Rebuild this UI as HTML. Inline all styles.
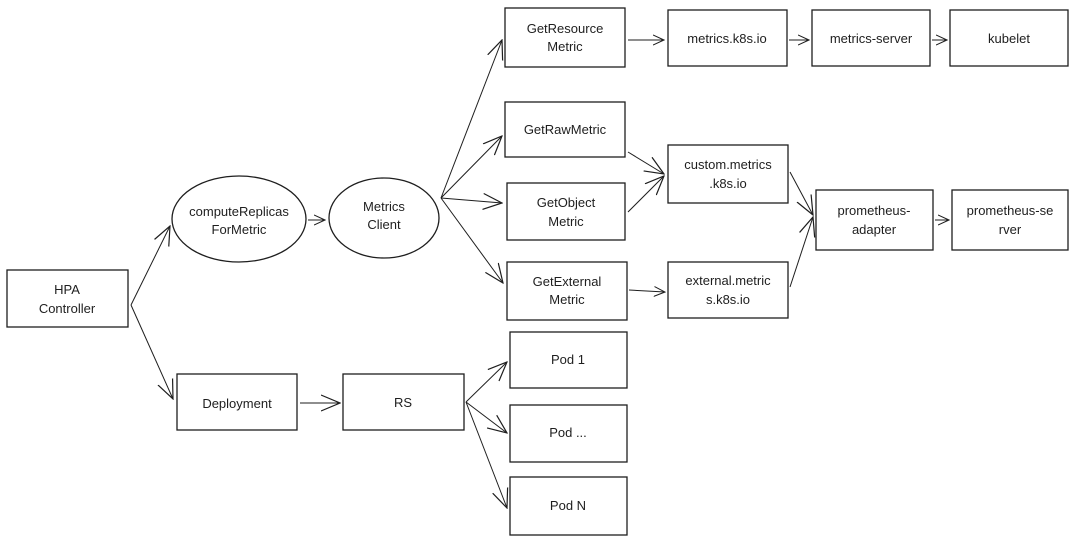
<!DOCTYPE html>
<html><head><meta charset="utf-8"><style>
html,body{margin:0;padding:0;background:#fff;}
svg{display:block}
text{font-family:"Liberation Sans",sans-serif;font-size:13px;fill:#1e1e1e;text-anchor:middle;}
.b{fill:none;stroke:#1e1e1e;stroke-width:1.3}
.a{fill:none;stroke:#1e1e1e;stroke-width:1}
</style></head><body>
<svg width="1080" height="541" viewBox="0 0 1080 541">
<defs><marker id="m" viewBox="0 0 12 12" refX="11" refY="6" markerWidth="12" markerHeight="12" markerUnits="userSpaceOnUse" orient="auto"><path d="M0,1 L11,6 L0,11" fill="none" stroke="#1e1e1e" stroke-width="1"/></marker>
<marker id="M" viewBox="0 0 20 20" refX="19" refY="10" markerWidth="20" markerHeight="20" markerUnits="userSpaceOnUse" orient="auto"><path d="M0,2 L19,10 L0,18" fill="none" stroke="#1e1e1e" stroke-width="1.2"/></marker></defs>
<!-- boxes -->
<rect class="b" x="7" y="270" width="121" height="57"/>
<ellipse class="b" cx="239" cy="219" rx="67" ry="43"/>
<ellipse class="b" cx="384" cy="218" rx="55" ry="40"/>
<rect class="b" x="505" y="8" width="120" height="59"/>
<rect class="b" x="505" y="102" width="120" height="55"/>
<rect class="b" x="507" y="183" width="118" height="57"/>
<rect class="b" x="507" y="262" width="120" height="58"/>
<rect class="b" x="668" y="10" width="119" height="56"/>
<rect class="b" x="812" y="10" width="118" height="56"/>
<rect class="b" x="950" y="10" width="118" height="56"/>
<rect class="b" x="668" y="145" width="120" height="58"/>
<rect class="b" x="668" y="262" width="120" height="56"/>
<rect class="b" x="816" y="190" width="117" height="60"/>
<rect class="b" x="952" y="190" width="116" height="60"/>
<rect class="b" x="177" y="374" width="120" height="56"/>
<rect class="b" x="343" y="374" width="121" height="56"/>
<rect class="b" x="510" y="332" width="117" height="56"/>
<rect class="b" x="510" y="405" width="117" height="57"/>
<rect class="b" x="510" y="477" width="117" height="58"/>
<!-- arrows -->
<path class="a" d="M131,305 L170,226" marker-end="url(#M)"/>
<path class="a" d="M131,305 L173,399" marker-end="url(#M)"/>
<path class="a" d="M308,220 L325,220" marker-end="url(#m)"/>
<path class="a" d="M441,198 L502,40" marker-end="url(#M)"/>
<path class="a" d="M441,198 L502,136" marker-end="url(#M)"/>
<path class="a" d="M441,198 L502,203" marker-end="url(#M)"/>
<path class="a" d="M441,198 L503,283" marker-end="url(#M)"/>
<path class="a" d="M628,40 L664,40" marker-end="url(#m)"/>
<path class="a" d="M789,40 L809,40" marker-end="url(#m)"/>
<path class="a" d="M932,40 L947,40" marker-end="url(#m)"/>
<path class="a" d="M628,152 L664,174" marker-end="url(#M)"/>
<path class="a" d="M628,212 L664,176" marker-end="url(#M)"/>
<path class="a" d="M629,290 L665,292" marker-end="url(#m)"/>
<path class="a" d="M790,172 L813,215" marker-end="url(#M)"/>
<path class="a" d="M790,287 L813,217" marker-end="url(#M)"/>
<path class="a" d="M935,220 L949,220" marker-end="url(#m)"/>
<path class="a" d="M300,403 L340,403" marker-end="url(#M)"/>
<path class="a" d="M466,402 L507,362" marker-end="url(#M)"/>
<path class="a" d="M466,402 L507,433" marker-end="url(#M)"/>
<path class="a" d="M466,402 L507,508" marker-end="url(#M)"/>
<!-- labels -->
<text x="67" y="294">HPA</text><text x="67" y="313">Controller</text>
<text x="239" y="216">computeReplicas</text><text x="239" y="234">ForMetric</text>
<text x="384" y="211">Metrics</text><text x="384" y="229">Client</text>
<text x="565" y="33">GetResource</text><text x="565" y="51">Metric</text>
<text x="565" y="134">GetRawMetric</text>
<text x="566" y="207">GetObject</text><text x="566" y="226">Metric</text>
<text x="567" y="286">GetExternal</text><text x="567" y="304">Metric</text>
<text x="727" y="43">metrics.k8s.io</text>
<text x="871" y="43">metrics-server</text>
<text x="1009" y="43">kubelet</text>
<text x="728" y="169">custom.metrics</text><text x="728" y="188">.k8s.io</text>
<text x="728" y="285">external.metric</text><text x="728" y="304">s.k8s.io</text>
<text x="874" y="215">prometheus-</text><text x="874" y="234">adapter</text>
<text x="1010" y="215">prometheus-se</text><text x="1010" y="234">rver</text>
<text x="237" y="408">Deployment</text>
<text x="403" y="407">RS</text>
<text x="568" y="364">Pod 1</text>
<text x="568" y="437">Pod ...</text>
<text x="568" y="510">Pod N</text>
</svg>
</body></html>
